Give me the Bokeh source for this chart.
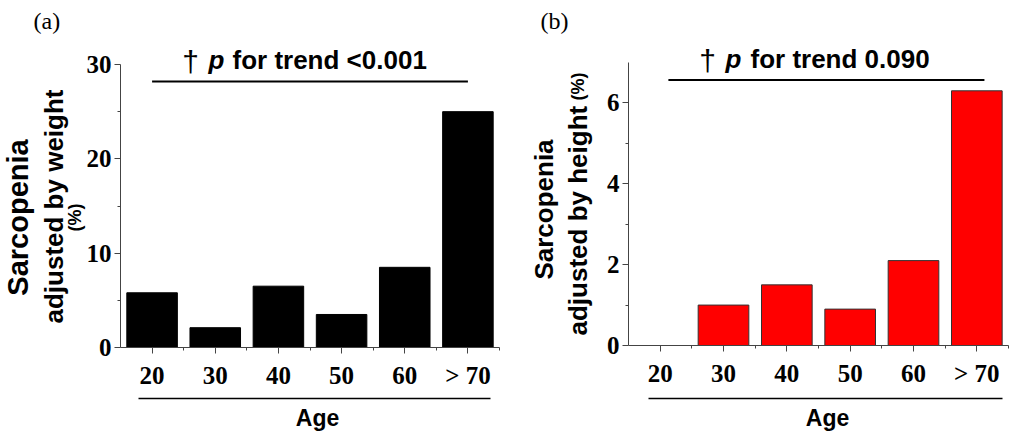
import math
from bokeh.plotting import figure
from bokeh.layouts import row
from bokeh.models import Range1d, FixedTicker, Label, Arrow, ColumnDataSource
from bokeh.embed import file_html
from bokeh.resources import INLINE

# ---- data ----
age_groups = ["20", "30", "40", "50", "60", "> 70"]
weight_pct = [5.8, 2.1, 6.5, 3.5, 8.5, 25.0]
height_pct = [0.0, 1.0, 1.5, 0.9, 2.1, 6.3]
weight_ticks = [0, 10, 20, 30]
weight_minor = [5, 15, 25]
height_ticks = [0, 2, 4, 6]
height_minor = [1, 3, 5]
trend_a = "for trend <0.001"
trend_b = "for trend 0.090"
trend_y_a = 28.2
trend_y_b = 6.57

SANS = "Liberation Sans"
SERIF = "Liberation Serif"
H = 434


def make_panel(values, ymax, yticks, yminor, fill, line, w, ax_left, ax_right, ax_top, ax_bottom):
    """ax_* are pixel positions (from the figure's top-left) of the axes box."""
    n = len(age_groups)
    xs = list(range(n))
    xppu = (ax_right - ax_left) / n
    yppu = (ax_bottom - ax_top) / ymax
    x0 = -0.5 - ax_left / xppu
    x1 = n - 0.5 + (w - ax_right) / xppu
    y0 = -(H - ax_bottom) / yppu
    y1 = ymax + ax_top / yppu
    p = figure(width=w, height=H, output_backend="svg", toolbar_location=None,
               x_range=Range1d(x0, x1), y_range=Range1d(y0, y1),
               min_border=0)
    p.outline_line_color = None
    p.grid.visible = False
    p.background_fill_color = "white"
    p.border_fill_color = "white"
    src = ColumnDataSource(dict(x=xs, top=values))
    p.vbar(x="x", top="top", width=0.8, bottom=0, source=src,
           fill_color=fill, line_color=line, line_width=1)

    xa = p.xaxis[0]
    xa.fixed_location = 0
    xa.bounds = (-0.5, n - 0.5)
    xa.ticker = FixedTicker(ticks=xs, minor_ticks=[i + 0.5 for i in xs])
    xa.major_label_overrides = {i: lab for i, lab in enumerate(age_groups)}
    xa.major_label_text_font = SERIF
    xa.major_label_text_font_style = "bold"
    xa.major_label_text_font_size = "25px"
    xa.major_label_text_color = "black"
    xa.major_label_standoff = 8
    xa.axis_line_color = "#444444"
    xa.major_tick_line_color = "#444444"
    xa.minor_tick_line_color = "#444444"
    xa.major_tick_out = 6
    xa.major_tick_in = 0
    xa.minor_tick_out = 3
    xa.minor_tick_in = 0

    ya = p.yaxis[0]
    ya.fixed_location = -0.5
    ya.bounds = (0, ymax)
    ya.ticker = FixedTicker(ticks=yticks, minor_ticks=yminor)
    ya.major_label_text_font = SERIF
    ya.major_label_text_font_style = "bold"
    ya.major_label_text_font_size = "25px"
    ya.major_label_text_color = "black"
    ya.major_label_standoff = 3
    ya.axis_line_color = "#444444"
    ya.major_tick_line_color = "#444444"
    ya.minor_tick_line_color = "#444444"
    ya.major_tick_out = 6
    ya.major_tick_in = 0
    ya.minor_tick_out = 3
    ya.minor_tick_in = 0
    return p


def lab(p, text, x, y, size, font=SANS, style="bold", align="left", baseline="alphabetic", angle=0.0):
    # x, y: pixels from the figure's top-left corner; shift corrects the
    # renderer's baseline placement so the glyphs sit where intended
    shift = 8 if baseline == "alphabetic" else 3
    if angle == 0.0:
        sx, sy = x, H - y + shift
    else:
        sx, sy = x - shift, H - y
    p.add_layout(Label(x=sx, y=sy, x_units="screen", y_units="screen", text=text,
                       text_font=font, text_font_style=style, text_font_size=f"{size}px",
                       text_color="black", text_align=align, text_baseline=baseline,
                       angle=angle))


def hline(p, x0, x1, y, width=1.6):
    p.add_layout(Arrow(end=None, start=None, x_start=x0, y_start=H - y, x_end=x1, y_end=H - y,
                       start_units="screen", end_units="screen",
                       line_color="black", line_width=width))


# ---- panel (a) ----
pa = make_panel(weight_pct, 30, weight_ticks, weight_minor, "black", "black",
                505, 120, 499, 64, 347)
pa.segment(x0=[0], x1=[len(age_groups) - 1], y0=[trend_y_a], y1=[trend_y_a],
           line_color="black", line_width=2)
lab(pa, "†", 190, 69, 30, style="normal", align="center")
lab(pa, "p", 208, 67, 26, style="bold italic")
lab(pa, trend_a, 232, 67, 26)
lab(pa, "Sarcopenia", 20, 217, 29, align="center", baseline="middle", angle=math.pi / 2)
lab(pa, "adjusted by weight", 56, 206, 26, align="center", baseline="middle", angle=math.pi / 2)
lab(pa, "(%)", 77, 217, 18, align="center", baseline="middle", angle=math.pi / 2)
hline(pa, 138, 490, 398)
lab(pa, "Age", 317, 425, 23, align="center")
lab(pa, "(a)", 33, 28, 24, font=SERIF, style="normal")

# ---- panel (b) ----
pb = make_panel(height_pct, 7, height_ticks, height_minor, "#ff0000", "#333333",
                506, 123, 503, 62, 345)
pb.segment(x0=[0.13], x1=[5.12], y0=[trend_y_b], y1=[trend_y_b],
           line_color="black", line_width=2)
lab(pb, "†", 202, 68, 30, style="normal", align="center")
lab(pb, "p", 220, 66, 26, style="bold italic")
lab(pb, trend_b, 245, 66, 26)
lab(pb, "Sarcopenia", 41, 209, 26, align="center", baseline="middle", angle=math.pi / 2)
lab(pb, "adjusted by height", 80, 335, 26, align="left", baseline="alphabetic", angle=math.pi / 2)
lab(pb, "(%)", 80, 100, 18, align="left", baseline="alphabetic", angle=math.pi / 2)
hline(pb, 143, 497, 398)
lab(pb, "Age", 322, 425, 23, align="center")
lab(pb, "(b)", 35, 28, 24, font=SERIF, style="normal")

layout = row(pa, pb)
open("out.html", "w").write(file_html(layout, INLINE))
